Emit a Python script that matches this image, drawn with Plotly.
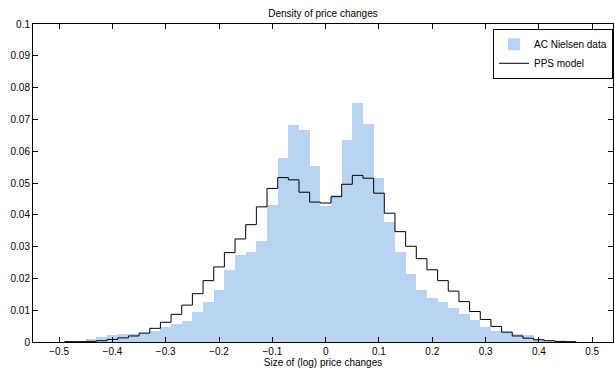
import plotly.graph_objects as go

bin_centers = [-0.48, -0.46, -0.44, -0.42, -0.40, -0.38, -0.36, -0.34, -0.32, -0.30,
               -0.28, -0.26, -0.24, -0.22, -0.20, -0.18, -0.16, -0.14, -0.12, -0.10,
               -0.08, -0.06, -0.04, -0.02, 0.00, 0.02, 0.04, 0.06, 0.08, 0.10,
               0.12, 0.14, 0.16, 0.18, 0.20, 0.22, 0.24, 0.26, 0.28, 0.30,
               0.32, 0.34, 0.36, 0.38, 0.40, 0.42, 0.44, 0.46]

nielsen_density = [0.0001, 0.0003, 0.0010, 0.0016, 0.0021, 0.0024, 0.0026, 0.0028, 0.0034, 0.0046,
                   0.0057, 0.0066, 0.0094, 0.0126, 0.0164, 0.0227, 0.0274, 0.0282, 0.0318, 0.0431,
                   0.0580, 0.0681, 0.0667, 0.0552, 0.0429, 0.0463, 0.0636, 0.0753, 0.0686, 0.0515,
                   0.0376, 0.0284, 0.0214, 0.0164, 0.0139, 0.0126, 0.0107, 0.0088, 0.0069, 0.0047,
                   0.0036, 0.0030, 0.0026, 0.0021, 0.0008, 0.0003, 0.0001, 0.0000]

pps_density = [0.0001, 0.0001, 0.0002, 0.0004, 0.0008, 0.0013, 0.0019, 0.0028, 0.0043, 0.0062,
               0.0087, 0.0116, 0.0152, 0.0193, 0.0236, 0.0281, 0.0324, 0.0369, 0.0425, 0.0483,
               0.0517, 0.0510, 0.0471, 0.0440, 0.0437, 0.0457, 0.0496, 0.0524, 0.0515, 0.0468,
               0.0405, 0.0347, 0.0301, 0.0262, 0.0227, 0.0193, 0.0160, 0.0127, 0.0096, 0.0071,
               0.0049, 0.0031, 0.0019, 0.0012, 0.0007, 0.0004, 0.0002, 0.0001]

x_ticks = [-0.5, -0.4, -0.3, -0.2, -0.1, 0, 0.1, 0.2, 0.3, 0.4, 0.5]
x_tick_labels = ["\u22120.5", "\u22120.4", "\u22120.3", "\u22120.2", "\u22120.1", "0",
                 "0.1", "0.2", "0.3", "0.4", "0.5"]
y_ticks = [0, 0.01, 0.02, 0.03, 0.04, 0.05, 0.06, 0.07, 0.08, 0.09, 0.1]
y_tick_labels = ["0", "0.01", "0.02", "0.03", "0.04", "0.05", "0.06", "0.07", "0.08", "0.09", "0.1"]

bin_width = 0.02

# stair line: left edges + final right edge
step_x = [c - bin_width / 2 for c in bin_centers] + [bin_centers[-1] + bin_width / 2]
step_y = pps_density + [pps_density[-1]]

fig = go.Figure()
fig.add_trace(go.Bar(
    x=bin_centers, y=nielsen_density, width=bin_width,
    marker=dict(color="#b9d4f3", line=dict(width=0)),
    name="AC Nielsen data",
))
fig.add_trace(go.Scatter(
    x=step_x, y=step_y, mode="lines", line=dict(color="black", width=1, shape="hv"),
    name="PPS model",
))

font_family = "Liberation Sans, Arial, sans-serif"
fig.update_layout(
    width=615, height=371,
    margin=dict(l=33, r=2, t=24, b=29),
    paper_bgcolor="white", plot_bgcolor="white",
    bargap=0,
    font=dict(family=font_family, size=10, color="black"),
    title=dict(text="Density of price changes", x=0.5 * (33 + 613) / 615, xanchor="center",
               y=1 - 13 / 371, yanchor="middle", font=dict(size=10)),
    legend=dict(x=1.0, xanchor="right", y=0.985, yanchor="top",
                bgcolor="white", bordercolor="black", borderwidth=1,
                font=dict(size=10), tracegroupgap=0, itemwidth=30),
    showlegend=True,
)
fig.update_xaxes(
    range=[-0.549, 0.539], tickvals=x_ticks, ticktext=x_tick_labels,
    showgrid=False, zeroline=False, showline=True, linecolor="black", linewidth=1,
    mirror="ticks", ticks="inside", ticklen=5, tickcolor="black",
    title=dict(text="Size of (log) price changes", standoff=2, font=dict(size=10)),
)
fig.update_yaxes(
    range=[0, 0.1], tickvals=y_ticks, ticktext=y_tick_labels,
    showgrid=False, zeroline=False, showline=True, linecolor="black", linewidth=1,
    mirror="ticks", ticks="inside", ticklen=5, tickcolor="black",
)

fig.write_html("out.html")
